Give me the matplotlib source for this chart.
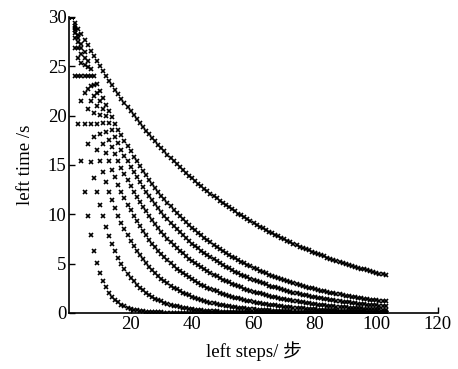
import numpy as np
import matplotlib
matplotlib.use("Agg")
import matplotlib.pyplot as plt

# remaining time decays geometrically each step: t = total * ratio**(step - 1)
# ratios (curve values at x=40 and x=60, end values at x~103)
total_time = 30.0
n_steps = 103
ratios = [0.98, 0.9686, 0.9635, 0.9564, 0.9457, 0.9283, 0.894, 0.80]

x_ticks = [20, 40, 60, 80, 100, 120]
y_ticks = [0, 5, 10, 15, 20, 25, 30]

plt.rcParams['font.family'] = ['Liberation Serif', 'Noto Sans CJK SC']

fig = plt.figure(figsize=(4.58, 3.69), dpi=100)
ax = fig.add_axes([0.151, 0.152, 0.805, 0.802])

steps = np.arange(1, n_steps + 1)
for r in ratios:
    ax.plot(steps, total_time * r ** (steps - 1), linestyle='none', marker='x',
            markersize=2.6, markeredgewidth=1.2, color='black')

ax.set_xlim(0, 120)
ax.set_ylim(0, 30)
ax.set_xticks(x_ticks)
ax.set_yticks(y_ticks)
ax.tick_params(direction='in', length=4, width=1, labelsize=13.5, pad=2)
for s in ['top', 'right']:
    ax.spines[s].set_visible(False)
for s in ['left', 'bottom']:
    ax.spines[s].set_linewidth(1.2)

ax.set_xlabel('left steps/ 步', fontsize=13.5, labelpad=6)
ax.set_ylabel('left time /s', fontsize=13.5, labelpad=10)

fig.savefig('out.png', dpi=100)
